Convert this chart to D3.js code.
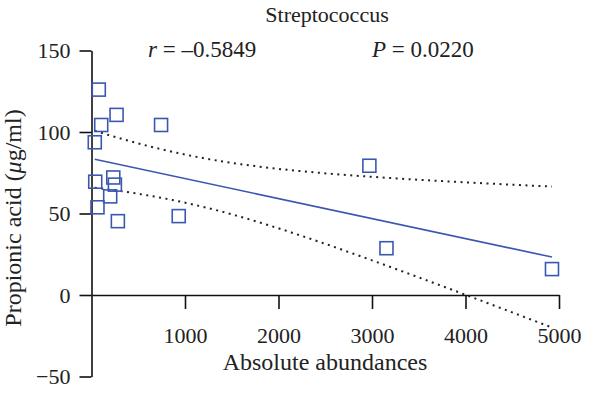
<!DOCTYPE html>
<html>
<head>
<meta charset="utf-8">
<script src="https://cdn.jsdelivr.net/npm/d3@7"></script>
<style>
  body { margin: 0; background: #fff; }
  svg, svg text { font-family: "Liberation Serif", "Times New Roman", "DejaVu Serif", serif !important; }
</style>
</head>
<body>
<div id="chart"></div>
<script>
// Absolute abundances of Streptococcus vs propionic acid
const abundance = [78, 268, 104, 744, 35, 40, 233, 250, 200, 64, 282, 933, 2972, 3155, 4925];
const propionic = [126.0, 110.5, 104.3, 104.3, 93.7, 69.5, 72.1, 67.7, 60.5, 53.8, 45.3, 48.4, 79.3, 28.7, 15.9];
const xTicks = [1000, 2000, 3000, 4000, 5000];
const yTicks = [-50, 0, 50, 100, 150];
const title = "Streptococcus";
const rText = "0.5849";
const pText = "0.0220";

const width = 600, height = 393;
const blue = "#3b58b0";
const serif = '"Liberation Serif", "Times New Roman", serif';

const svg = d3.select("#chart").append("svg")
    .attr("width", width)
    .attr("height", height);

const x = d3.scaleLinear().domain([0, 5000]).range([91.5, 559]);
const y = d3.scaleLinear().domain([-50, 150]).range([376.5, 50.5]);

// linear regression + 95% confidence band of the mean
const n = abundance.length;
const mx = d3.mean(abundance), my = d3.mean(propionic);
let sxx = 0, sxy = 0;
abundance.forEach((v, i) => { sxx += (v - mx) ** 2; sxy += (v - mx) * (propionic[i] - my); });
const slope = sxy / sxx, intercept = my - slope * mx;
let sse = 0;
abundance.forEach((v, i) => { sse += (propionic[i] - (intercept + slope * v)) ** 2; });
const s = Math.sqrt(sse / (n - 2));
const tcrit = 2.160; // t(0.975, 13)
const [x0, x1] = d3.extent(abundance);
const band = d3.range(0, 101).map(k => {
    const xv = x0 + (x1 - x0) * k / 100;
    const fit = intercept + slope * xv;
    const hw = tcrit * s * Math.sqrt(1 / n + (xv - mx) ** 2 / sxx);
    return { x: xv, lo: fit - hw, hi: fit + hw };
});

// axes
const yAxis = svg.append("g")
    .attr("transform", `translate(${x(0)},0)`)
    .call(d3.axisLeft(y).tickValues(yTicks).tickSize(12).tickSizeOuter(0).tickPadding(9));
const xAxis = svg.append("g")
    .attr("transform", `translate(0,${y(0)})`)
    .call(d3.axisBottom(x).tickValues(xTicks).tickFormat(d3.format("d"))
        .tickSize(14).tickSizeOuter(0).tickPadding(18));

[xAxis, yAxis].forEach(g => {
    g.attr("font-family", null);
    g.selectAll("path, line").attr("stroke", "#111").attr("stroke-width", 1.6);
    g.selectAll("text").style("font-family", serif).attr("font-size", 22).attr("fill", "#222");
});

// confidence band (dotted)
["hi", "lo"].forEach(key => {
    svg.append("path")
        .datum(band)
        .attr("fill", "none")
        .attr("stroke", "#222")
        .attr("stroke-width", 2)
        .attr("stroke-dasharray", "2,4.5")
        .attr("d", d3.line().x(d => x(d.x)).y(d => y(d[key])));
});

// regression line
svg.append("line")
    .attr("x1", x(x0)).attr("y1", y(intercept + slope * x0))
    .attr("x2", x(x1)).attr("y2", y(intercept + slope * x1))
    .attr("stroke", blue)
    .attr("stroke-width", 1.6);

// points
svg.selectAll("rect.pt")
    .data(abundance)
    .enter()
    .append("rect")
    .attr("class", "pt")
    .attr("x", d => x(d) - 6.5)
    .attr("y", (d, i) => y(propionic[i]) - 6.5)
    .attr("width", 13)
    .attr("height", 13)
    .attr("fill", "none")
    .attr("stroke", blue)
    .attr("stroke-width", 1.6);

// texts
function label(xp, yp, size) {
    return svg.append("text")
        .attr("x", xp).attr("y", yp)
        .attr("font-size", size)
        .attr("fill", "#222")
        .style("font-family", serif);
}

label(327, 22, 22).attr("text-anchor", "middle").text(title);

const rt = label(148, 57, 23);
rt.append("tspan").attr("font-style", "italic").text("r");
rt.append("tspan").text(" = \u2013" + rText);

const pt = label(372, 57, 23);
pt.append("tspan").attr("font-style", "italic").text("P");
pt.append("tspan").text(" = " + pText);

label(325, 370, 24).attr("text-anchor", "middle").text("Absolute abundances");

const yl = label(0, 0, 24)
    .attr("transform", "translate(21,218) rotate(-90)")
    .attr("text-anchor", "middle");
yl.append("tspan").text("Propionic acid (");
yl.append("tspan").attr("font-style", "italic").text("\u03bc");
yl.append("tspan").text("g/ml)");
</script>
</body>
</html>
